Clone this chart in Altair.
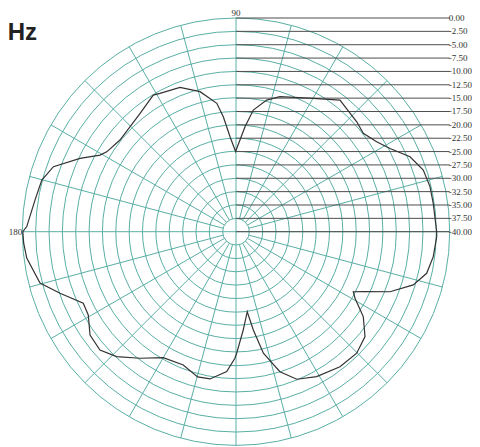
import altair as alt
import pandas as pd

# ---- data (angle in degrees, gain in dB) ----
ANGLES = [0, 8.2, 13.1, 18.2, 23.3, 28.4, 32.6, 37.7, 42.3, 51.7, 59.9, 72.0, 76.9,
          81.9, 85.1, 90.3, 93.6, 96.3, 98.5, 104.4, 111.2, 118.8, 121.2, 129.0,
          141.7, 148.3, 150.6, 154.8, 160.4, 165.1, 171.0, 178.6, 180.0, 183.1,
          187.2, 194.7, 199.3, 205.1, 209.4, 215.3, 221.0, 226.3, 232.8, 240.0,
          248.4, 255.2, 260.0, 266.2, 269.5, 270.3, 274.2, 278.0, 280.0, 282.7,
          287.4, 292.4, 299.1, 307.6, 314.8, 320.9, 326.3, 330.8, 332.9, 334.8,
          338.7, 343.3, 347.7, 352.8, 358.6, 360.0]
GAIN = [-2.44, -2.70, -2.72, -3.10, -4.54, -7.23, -8.75, -9.89, -9.44, -8.60, -11.14,
        -13.43, -14.70, -17.00, -20.28, -25.0, -22.19, -18.35, -15.71, -12.94, -11.01,
        -10.45, -10.10, -11.48, -12.32, -11.56, -10.79, -7.74, -3.72, -2.39, -1.92,
        -0.82, -0.1, -0.2, -0.52, -2.07, -5.10, -8.43, -8.26, -6.52, -6.26, -7.66,
        -10.26, -12.77, -13.18, -11.89, -12.01, -13.75, -16.31, -17.24, -21.55,
        -24.88, -21.32, -16.68, -12.53, -10.13, -8.96, -8.11, -7.94, -8.88, -11.37,
        -14.48, -15.34, -13.67, -9.07, -5.36, -3.47, -2.78, -2.42, -2.44]

LEVELS = [0.0, -2.5, -5.0, -7.5, -10.0, -12.5, -15.0, -17.5, -20.0, -22.5, -25.0,
          -27.5, -30.0, -32.5, -35.0, -37.5, -40.0]
LEVEL_LABELS = ["0.00", "-2.50", "-5.00", "-7.50", "-10.00", "-12.50", "-15.00",
                "-17.50", "-20.00", "-22.50", "-25.00", "-27.50", "-30.00",
                "-32.50", "-35.00", "-37.50", "-40.00"]
SPOKES = list(range(0, 360, 15))
ANGLE_LABEL_TOP = "90"
ANGLE_LABEL_LEFT = "180"
TITLE = "MHz"
DB_MIN = -40.0

# ---- layout ----
W, H = 464, 439
CX, CY, R = 228.0, 223.7, 213.7
TEAL = "#5aafa5"

xs = alt.Scale(domain=[-CX / R, (W - CX) / R], nice=False, zero=False)
ys = alt.Scale(domain=[(CY - H) / R, CY / R], nice=False, zero=False)

rnorm = f"(datum.level - ({DB_MIN})) / ({-DB_MIN})"

# rings
rings = alt.Chart(pd.DataFrame({"level": LEVELS[:-1]})).transform_calculate(
    r=rnorm, cx="0", cy="0"
).mark_point(shape="circle", filled=False, stroke=TEAL, strokeWidth=1, opacity=1).encode(
    x=alt.X("cx:Q", scale=xs, axis=None),
    y=alt.Y("cy:Q", scale=ys, axis=None),
    size=alt.Size("r:Q", scale=alt.Scale(type="pow", exponent=2, domain=[0, 1],
                                         range=[0, (2 * R) ** 2]), legend=None),
)

# spokes
spokes = alt.Chart(pd.DataFrame({"angle": SPOKES})).transform_calculate(
    r0="datum.angle % 90 == 0 ? 0 : 1/16",
    xa="datum.r0 * cos(datum.angle * PI / 180)",
    ya="datum.r0 * sin(datum.angle * PI / 180)",
    xb="cos(datum.angle * PI / 180)",
    yb="sin(datum.angle * PI / 180)",
).mark_rule(stroke=TEAL, strokeWidth=1).encode(
    x=alt.X("xa:Q", scale=xs, axis=None), y=alt.Y("ya:Q", scale=ys, axis=None),
    x2="xb:Q", y2="yb:Q",
)

lvl_df = pd.DataFrame({"level": LEVELS, "label": LEVEL_LABELS})

level_lines = alt.Chart(lvl_df).transform_calculate(
    r=rnorm, x0="0", x1="1"
).mark_rule(stroke="#4d4d4d", strokeWidth=1).encode(
    x=alt.X("x0:Q", scale=xs, axis=None), x2="x1:Q",
    y=alt.Y("r:Q", scale=ys, axis=None),
)

level_text = alt.Chart(lvl_df).transform_calculate(
    r=rnorm, x1="1"
).mark_text(align="left", baseline="middle", dx=-1, font="Liberation Serif",
            fontSize=9, color="#333333").encode(
    x=alt.X("x1:Q", scale=xs, axis=None),
    y=alt.Y("r:Q", scale=ys, axis=None),
    text="label:N",
)

top_lbl = alt.Chart(pd.DataFrame({"t": [ANGLE_LABEL_TOP], "px": [0], "py": [1]})).mark_text(
    align="center", baseline="middle", dy=-5.5, font="Liberation Serif", fontSize=9,
    color="#333333").encode(
    x=alt.X("px:Q", scale=xs, axis=None), y=alt.Y("py:Q", scale=ys, axis=None), text="t:N")

left_lbl = alt.Chart(pd.DataFrame({"t": [ANGLE_LABEL_LEFT], "px": [-1], "py": [0]})).mark_text(
    align="right", baseline="middle", dx=0, font="Liberation Serif", fontSize=9,
    color="#333333").encode(
    x=alt.X("px:Q", scale=xs, axis=None), y=alt.Y("py:Q", scale=ys, axis=None), text="t:N")

curve_df = pd.DataFrame({"angle": ANGLES, "gain": GAIN, "idx": list(range(len(ANGLES)))})
curve = alt.Chart(curve_df).transform_calculate(
    r=f"(datum.gain - ({DB_MIN})) / ({-DB_MIN})",
    px="datum.r * cos(datum.angle * PI / 180)",
    py="datum.r * sin(datum.angle * PI / 180)",
).mark_line(color="#333333", strokeWidth=1.2).encode(
    x=alt.X("px:Q", scale=xs, axis=None),
    y=alt.Y("py:Q", scale=ys, axis=None),
    order="idx:Q",
)

title = alt.Chart(pd.DataFrame({"t": [TITLE]})).mark_text(
    align="right", baseline="alphabetic", font="Liberation Sans", fontWeight="bold",
    fontSize=24, color="#222222").encode(
    x=alt.value(29), y=alt.value(32), text="t:N")

chart = alt.layer(rings, spokes, level_lines, level_text, top_lbl, left_lbl, curve, title).properties(
    width=W, height=H, padding=0, autosize="none"
).configure_view(stroke=None)

chart.save("out.html", embed_options={"renderer": "svg", "actions": False})
